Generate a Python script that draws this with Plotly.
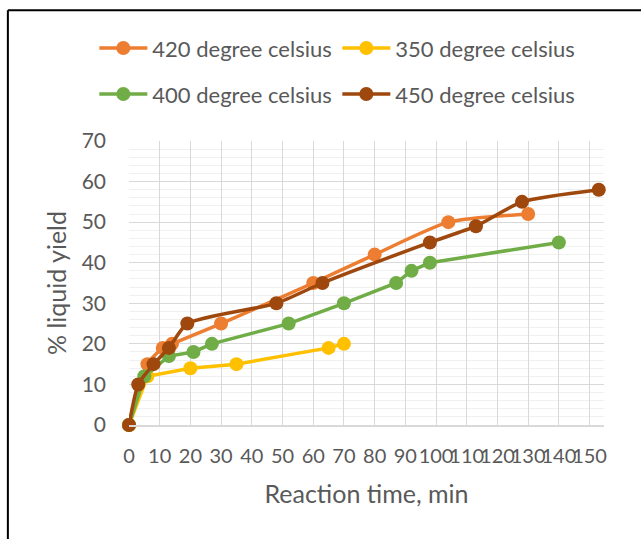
import plotly.graph_objects as go

# Reaction time (min) and % liquid yield for each temperature
t_420 = [0, 6, 11, 14, 30, 60, 80, 104, 130]
y_420 = [0, 15, 19, 20, 25, 35, 42, 50, 52]

t_350 = [0, 6, 20, 35, 65, 70]
y_350 = [0, 12, 14, 15, 19, 20]

t_400 = [0, 5, 13, 21, 27, 52, 70, 87, 92, 98, 140]
y_400 = [0, 12, 17, 18, 20, 25, 30, 35, 38, 40, 45]

t_450 = [0, 3, 8, 13, 19, 48, 63, 98, 113, 128, 153]
y_450 = [0, 10, 15, 19, 25, 30, 35, 45, 49, 55, 58]

x_ticks = list(range(0, 151, 10))
y_ticks = list(range(0, 71, 10))

FONT = "Lato"
TXT = "#595959"

series = [
    ("420 degree celsius", t_420, y_420, "#ED7D31", "spline", "legend"),
    ("350 degree celsius", t_350, y_350, "#FFC000", "linear", "legend"),
    ("400 degree celsius", t_400, y_400, "#70AD47", "linear", "legend2"),
    ("450 degree celsius", t_450, y_450, "#9E480E", "spline", "legend2"),
]

fig = go.Figure()
for name, xs, ys, col, shape, lg in series:
    fig.add_trace(go.Scatter(
        x=xs, y=ys, name=name, mode="lines+markers",
        line=dict(color=col, width=3.5, shape=shape, smoothing=0.6),
        marker=dict(color=col, size=14),
        legend=lg, cliponaxis=False,
    ))

legend_common = dict(
    orientation="h", xanchor="left", yanchor="middle",
    font=dict(family=FONT, size=22, color=TXT),
    bgcolor="rgba(0,0,0,0)", entrywidth=180, itemwidth=48,
)

fig.update_layout(
    width=641, height=539,
    margin=dict(l=129, r=37, t=141, b=114),
    paper_bgcolor="white", plot_bgcolor="white",
    font=dict(family=FONT, color=TXT),
    legend=dict(x=-0.073, y=1.327, **legend_common),
    legend2=dict(x=-0.073, y=1.165, **legend_common),
    shapes=[
        dict(type="line", xref="paper", yref="paper",
             x0=-0.255, x1=1.1, y0=1.46, y1=1.46,
             line=dict(color="black", width=2)),
        dict(type="line", xref="paper", yref="paper",
             x0=-0.255, x1=-0.255, y0=1.46, y1=-0.45,
             line=dict(color="black", width=2)),
    ],
)

fig.update_xaxes(
    range=[0, 154.7], tickvals=x_ticks, ticktext=[str(v) for v in x_ticks],
    tickangle=0, tickfont=dict(family=FONT, size=20, color=TXT),
    ticklabelstandoff=12,
    showgrid=True, gridcolor="#d9d9d9", gridwidth=1,
    showline=True, linecolor="#d9d9d9", linewidth=1.5,
    zeroline=False, ticks="",
    title=dict(text="Reaction time, min", font=dict(family=FONT, size=25, color=TXT),
               standoff=20),
)
fig.update_yaxes(
    range=[0, 70], tickvals=y_ticks,
    tickfont=dict(family=FONT, size=21, color=TXT),
    ticklabelstandoff=22,
    showgrid=True, gridcolor="#d9d9d9", gridwidth=1,
    minor=dict(dtick=2, showgrid=True, gridcolor="#f0f0f0", gridwidth=1),
    showline=False, zeroline=False, ticks="",
    title=dict(text="% liquid yield", font=dict(family=FONT, size=25, color=TXT),
               standoff=7),
)

fig.write_html("out.html")
